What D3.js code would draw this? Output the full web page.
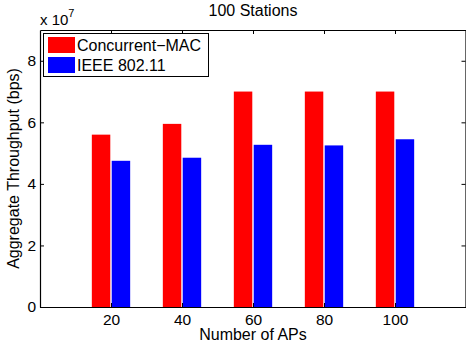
<!DOCTYPE html>
<html>
<head>
<meta charset="utf-8">
<script src="https://cdn.jsdelivr.net/npm/d3@7"></script>
<style>
  body { margin: 0; background: #fff; }
  svg text { font-family: "Liberation Sans", Arial, Helvetica, sans-serif; fill: #000; }
</style>
</head>
<body>
<svg id="chart" width="466" height="349"></svg>
<script>
// values, in units of 10^7 bps
var aps = [20, 40, 60, 80, 100];
var concurrentMac = [5.6, 5.95, 7.0, 7.0, 7.0];
var ieee80211 = [4.75, 4.85, 5.27, 5.25, 5.45];
var seriesNames = ["Concurrent\u2212MAC", "IEEE 802.11"];
var seriesColors = ["#ff0000", "#0000ff"];
var yTicks = [0, 2, 4, 6, 8];

(function () {
    'use strict';
    var svg = d3.select("#chart");
    var plotLeft = 40, plotRight = 466, plotTop = 30, plotBottom = 307;

    var x = d3.scaleLinear().domain([0, 120]).range([plotLeft, plotRight]);
    var y = d3.scaleLinear().domain([0, 9]).range([plotBottom, plotTop]);

    var barOffset = 2.8, barWidth = 5.2;   // in x units
    var series = [concurrentMac, ieee80211];

    series.forEach(function (vals, i) {
        var off = i === 0 ? -barOffset : barOffset;
        svg.append("g").selectAll("rect")
            .data(vals)
            .enter().append("rect")
            .attr("x", function (d, j) { return x(aps[j] + off - barWidth / 2); })
            .attr("width", x(barWidth) - x(0))
            .attr("y", function (d) { return y(d); })
            .attr("height", function (d) { return y(0) - y(d); })
            .attr("fill", seriesColors[i]);
    });

    // axes, matlab style with inward ticks
    var tick = 4;
    var bottomAxis = d3.axisBottom(x).tickValues(aps).tickSizeInner(-tick).tickSizeOuter(0).tickPadding(7);
    var topAxis = d3.axisTop(x).tickValues(aps).tickSizeInner(-tick).tickSizeOuter(0).tickFormat("");
    var leftAxis = d3.axisLeft(y).tickValues(yTicks).tickSizeInner(-tick).tickSizeOuter(0).tickPadding(4);
    var rightAxis = d3.axisRight(y).tickValues(yTicks).tickSizeInner(-tick).tickSizeOuter(0).tickFormat("");

    function style(g) {
        g.selectAll("path").attr("stroke", "#000").attr("stroke-width", 1.2);
        g.selectAll("line").attr("stroke", "#000").attr("stroke-width", 1);
        g.selectAll("text").attr("font-size", 15.5).attr("fill", "#000")
            .style("font-family", "'Liberation Sans', Arial, sans-serif");
    }

    svg.append("g").attr("transform", "translate(0," + plotBottom + ")").call(bottomAxis).call(style);
    svg.append("g").attr("transform", "translate(0," + plotTop + ")").call(topAxis).call(style);
    svg.append("g").attr("transform", "translate(" + plotLeft + ",0)").call(leftAxis).call(style);
    svg.append("g").attr("transform", "translate(" + (plotRight - 0.5) + ",0)").call(rightAxis).call(style);

    // exponent label
    var expo = svg.append("text").attr("x", 40).attr("y", 25).attr("font-size", 15);
    expo.append("tspan").text("x 10");
    expo.append("tspan").attr("dy", -8).attr("font-size", 11).text("7");

    // title and axis labels
    svg.append("text").attr("x", 253).attr("y", 16).attr("text-anchor", "middle")
        .attr("font-size", 16).text("100 Stations");
    svg.append("text").attr("x", 253).attr("y", 340).attr("text-anchor", "middle")
        .attr("font-size", 16).text("Number of APs");
    svg.append("text").attr("transform", "translate(19," + ((plotTop + plotBottom) / 2) + ") rotate(-90)")
        .attr("text-anchor", "middle").attr("font-size", 16).text("Aggregate Throughput (bps)");

    // legend
    var legend = svg.append("g");
    legend.append("rect").attr("x", 43.5).attr("y", 33.5).attr("width", 165).attr("height", 43)
        .attr("fill", "#fff").attr("stroke", "#000").attr("stroke-width", 1);
    seriesNames.forEach(function (name, i) {
        legend.append("rect").attr("x", 48).attr("y", 37 + i * 20).attr("width", 27).attr("height", 16)
            .attr("fill", seriesColors[i]);
        legend.append("text").attr("x", 77).attr("y", 51 + i * 20).attr("font-size", 16).text(name);
    });
})();
</script>
</body>
</html>
